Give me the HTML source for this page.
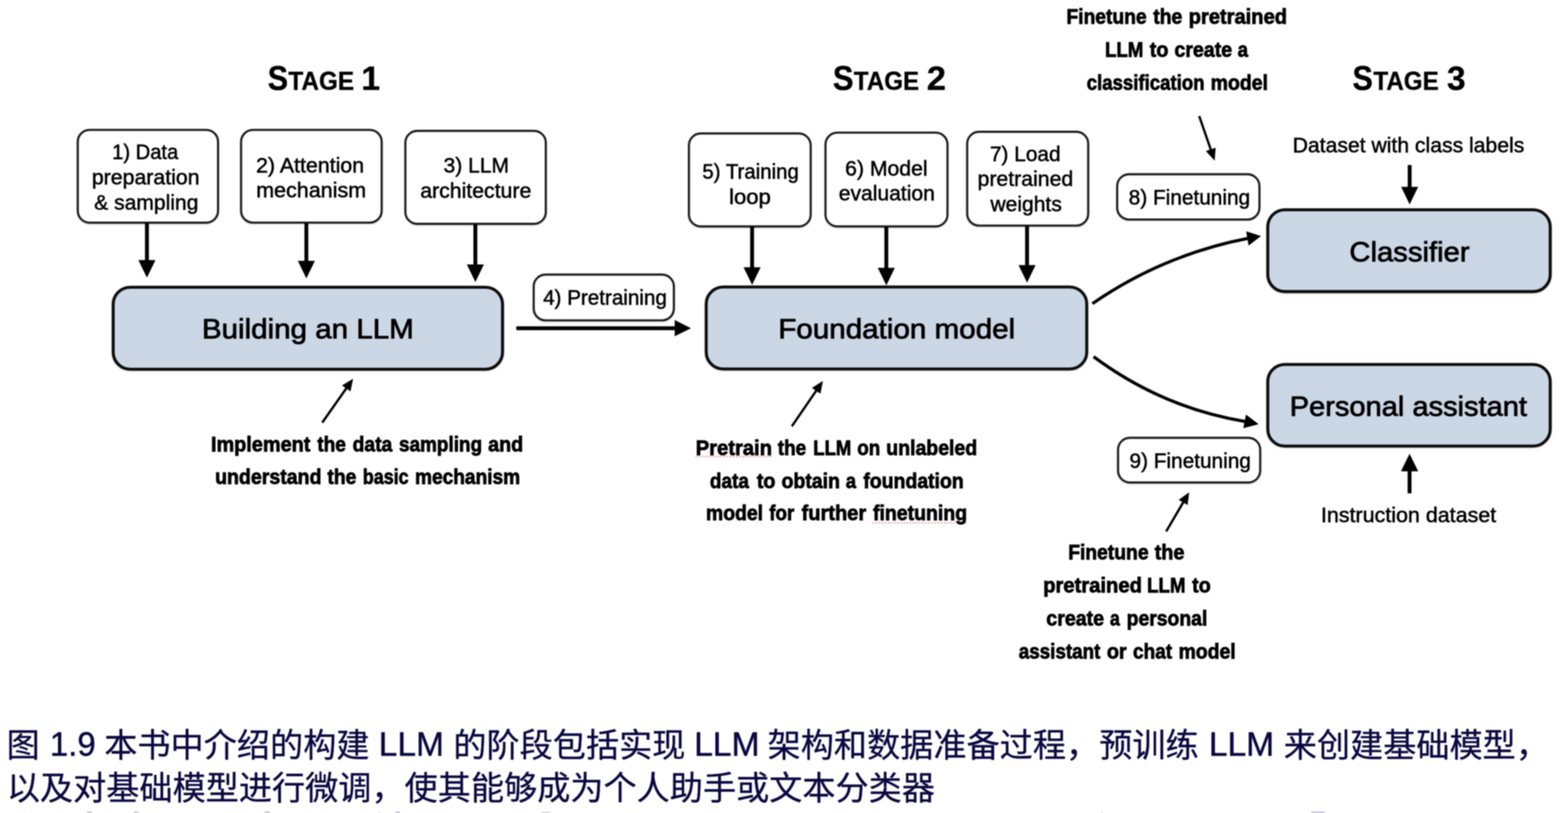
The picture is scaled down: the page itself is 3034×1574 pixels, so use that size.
<!DOCTYPE html>
<html><head><meta charset="utf-8"><title>Figure 1.9</title>
<style>
html,body{margin:0;padding:0;background:#fff;overflow:hidden}
svg{display:block;font-family:"Liberation Sans",sans-serif;filter:blur(0.9px)}
text{white-space:pre}
</style></head>
<body>
<svg width="3034" height="1574" viewBox="0 0 3034 1574">
<defs>
<filter id="sh" x="-5%" y="-5%" width="110%" height="115%"><feDropShadow dx="0" dy="1.5" stdDeviation="1.6" flood-color="#000" flood-opacity="0.16"/></filter>
</defs>
<rect width="3034" height="1574" fill="#fff"/>
<g filter="url(#sh)">
<rect x="150.50" y="251.50" width="271.40" height="179.60" rx="23.00" fill="#fff" stroke="#1a1a1a" stroke-width="4.1"/>
<rect x="466.50" y="251.50" width="272.00" height="179.50" rx="23.00" fill="#fff" stroke="#1a1a1a" stroke-width="4.1"/>
<rect x="784.40" y="253.40" width="271.70" height="180.00" rx="23.00" fill="#fff" stroke="#1a1a1a" stroke-width="4.1"/>
<rect x="1032.70" y="531.60" width="271.20" height="88.60" rx="23.00" fill="#fff" stroke="#1a1a1a" stroke-width="4.1"/>
<rect x="1333.10" y="258.40" width="235.50" height="180.00" rx="23.00" fill="#fff" stroke="#1a1a1a" stroke-width="4.1"/>
<rect x="1597.30" y="256.70" width="236.00" height="181.70" rx="23.00" fill="#fff" stroke="#1a1a1a" stroke-width="4.1"/>
<rect x="1871.50" y="255.10" width="234.10" height="181.60" rx="23.00" fill="#fff" stroke="#1a1a1a" stroke-width="4.1"/>
<rect x="2161.70" y="337.40" width="275.20" height="87.60" rx="23.00" fill="#fff" stroke="#1a1a1a" stroke-width="4.1"/>
<rect x="2163.40" y="847.60" width="275.00" height="86.50" rx="23.00" fill="#fff" stroke="#1a1a1a" stroke-width="4.1"/>
<rect x="219.00" y="556.10" width="753.40" height="158.70" rx="33.00" fill="#ccd7e6" stroke="#0a0a0a" stroke-width="5.8"/>
<rect x="1366.50" y="555.60" width="736.30" height="158.80" rx="33.00" fill="#ccd7e6" stroke="#0a0a0a" stroke-width="5.8"/>
<rect x="2453.10" y="406.10" width="546.50" height="158.40" rx="33.00" fill="#ccd7e6" stroke="#0a0a0a" stroke-width="5.8"/>
<rect x="2453.10" y="705.60" width="546.50" height="158.10" rx="33.00" fill="#ccd7e6" stroke="#0a0a0a" stroke-width="5.8"/>
</g>
<path d="M284.3,432.0L284.3,505.6" stroke="#000" stroke-width="7.5" fill="none"/><path d="M284.3,537.6L267.8,503.6L300.8,503.6Z" fill="#000"/>
<path d="M592.8,432.0L592.8,507.0" stroke="#000" stroke-width="7.5" fill="none"/><path d="M592.8,539.0L576.3,505.0L609.3,505.0Z" fill="#000"/>
<path d="M919.8,434.0L919.8,514.0" stroke="#000" stroke-width="7.5" fill="none"/><path d="M919.8,546.0L903.3,512.0L936.3,512.0Z" fill="#000"/>
<path d="M1455.3,439.0L1455.3,519.6" stroke="#000" stroke-width="7.5" fill="none"/><path d="M1455.3,551.6L1438.8,517.6L1471.8,517.6Z" fill="#000"/>
<path d="M1715.0,439.0L1715.0,520.5" stroke="#000" stroke-width="7.5" fill="none"/><path d="M1715.0,552.5L1698.5,518.5L1731.5,518.5Z" fill="#000"/>
<path d="M1987.3,437.5L1987.3,515.3" stroke="#000" stroke-width="7.5" fill="none"/><path d="M1987.3,547.3L1970.8,513.3L2003.8,513.3Z" fill="#000"/>
<path d="M2727.6,319.5L2727.6,363.7" stroke="#000" stroke-width="7.5" fill="none"/><path d="M2727.6,395.7L2711.1,361.7L2744.1,361.7Z" fill="#000"/>
<path d="M2727.4,955.2L2727.4,910.5" stroke="#000" stroke-width="7.5" fill="none"/><path d="M2727.4,878.5L2744.2,912.5L2710.7,912.5Z" fill="#000"/>
<path d="M999.0,635.4L1307.5,635.4" stroke="#000" stroke-width="7.5" fill="none"/><path d="M1337.0,635.4L1305.5,651.1L1305.5,619.6Z" fill="#000"/>
<path d="M623.6,818.1L671.1,750.4" stroke="#000" stroke-width="4.5" fill="none"/><path d="M683.2,733.2L678.2,757.8L661.8,746.3Z" fill="#000"/>
<path d="M1532.2,825.2L1580.4,754.9" stroke="#000" stroke-width="4.5" fill="none"/><path d="M1592.3,737.6L1587.5,762.2L1571.0,750.9Z" fill="#000"/>
<path d="M2320.4,224.8L2343.4,291.2" stroke="#000" stroke-width="4.5" fill="none"/><path d="M2350.3,311.0L2333.3,292.5L2352.2,286.0Z" fill="#000"/>
<path d="M2256.5,1028.9L2290.4,971.0" stroke="#000" stroke-width="4.5" fill="none"/><path d="M2301.0,952.9L2298.0,977.8L2280.7,967.7Z" fill="#000"/>
<path d="M2113.8,587.9Q2250,493.5 2415.6,461.3" stroke="#000" stroke-width="6" fill="none"/><path d="M2440.0,457.0L2416.0,475.4L2411.2,447.8Z" fill="#000"/>
<path d="M2116,690.5Q2250,790 2410.3,816.2" stroke="#000" stroke-width="6" fill="none"/><path d="M2435.4,821.2L2405.7,829.0L2410.9,802.6Z" fill="#000"/>
<path d="M1346,883.8H1493M1688.3,1012.3H1870.2" stroke="#e0524a" stroke-width="2" stroke-dasharray="3 3" opacity="0.75"/>
<text transform="translate(699.10,174.00) scale(1.0200,1)" font-size="64.6" font-weight="700" fill="#000" stroke="#000" stroke-width="0.6">1</text>
<g fill="#8f90b4" opacity="0.55"><rect x="168" y="1571" width="10" height="3"/><rect x="259" y="1571" width="9" height="3"/><rect x="512" y="1571" width="10" height="3"/><rect x="733" y="1572" width="3" height="2"/><rect x="765" y="1571" width="9" height="3"/><rect x="1048" y="1572" width="16" height="2"/><rect x="2131" y="1572" width="3" height="2"/><rect x="2537" y="1571" width="26" height="3"/></g>
<text transform="translate(216.95,308.30) scale(0.9754,1)" font-size="40" font-weight="400" fill="#000" stroke="#000" stroke-width="0.9">1) Data</text>
<text transform="translate(177.64,357.40) scale(1.0307,1)" font-size="40" font-weight="400" fill="#000" stroke="#000" stroke-width="0.9">preparation</text>
<text transform="translate(182.33,406.00) scale(1.0184,1)" font-size="40" font-weight="400" fill="#000" stroke="#000" stroke-width="0.9">&amp; sampling</text>
<text transform="translate(495.53,333.60) scale(1.0328,1)" font-size="40" font-weight="400" fill="#000" stroke="#000" stroke-width="0.9">2) Attention</text>
<text transform="translate(495.72,382.20) scale(1.0400,1)" font-size="40" font-weight="400" fill="#000" stroke="#000" stroke-width="0.9">mechanism</text>
<text transform="translate(858.28,333.80) scale(1.0176,1)" font-size="40" font-weight="400" fill="#000" stroke="#000" stroke-width="0.9">3) LLM</text>
<text transform="translate(813.17,382.80) scale(1.0284,1)" font-size="40" font-weight="400" fill="#000" stroke="#000" stroke-width="0.9">architecture</text>
<text transform="translate(1050.90,590.00) scale(0.9976,1)" font-size="40" font-weight="400" fill="#000" stroke="#000" stroke-width="0.9">4) Pretraining</text>
<text transform="translate(1359.11,345.50) scale(0.9873,1)" font-size="40" font-weight="400" fill="#000" stroke="#000" stroke-width="0.9">5) Training</text>
<text transform="translate(1410.86,394.50) scale(1.0680,1)" font-size="40" font-weight="400" fill="#000" stroke="#000" stroke-width="0.9">loop</text>
<text transform="translate(1635.35,339.50) scale(1.0248,1)" font-size="40" font-weight="400" fill="#000" stroke="#000" stroke-width="0.9">6) Model</text>
<text transform="translate(1622.98,387.50) scale(1.0194,1)" font-size="40" font-weight="400" fill="#000" stroke="#000" stroke-width="0.9">evaluation</text>
<text transform="translate(1915.38,311.90) scale(1.0090,1)" font-size="40" font-weight="400" fill="#000" stroke="#000" stroke-width="0.9">7) Load</text>
<text transform="translate(1891.55,360.10) scale(1.0275,1)" font-size="40" font-weight="400" fill="#000" stroke="#000" stroke-width="0.9">pretrained</text>
<text transform="translate(1916.42,408.70) scale(1.0182,1)" font-size="40" font-weight="400" fill="#000" stroke="#000" stroke-width="0.9">weights</text>
<text transform="translate(2184.09,395.70) scale(1.0059,1)" font-size="40" font-weight="400" fill="#000" stroke="#000" stroke-width="0.9">8) Finetuning</text>
<text transform="translate(2185.49,905.80) scale(1.0068,1)" font-size="40" font-weight="400" fill="#000" stroke="#000" stroke-width="0.9">9) Finetuning</text>
<text transform="translate(2501.23,294.60) scale(1.0236,1)" font-size="40" font-weight="400" fill="#000" stroke="#000" stroke-width="0.9">Dataset with class labels</text>
<text transform="translate(2555.99,1011.40) scale(1.0376,1)" font-size="40" font-weight="400" fill="#000" stroke="#000" stroke-width="0.9">Instruction dataset</text>
<text transform="translate(390.68,654.60) scale(1.0790,1)" font-size="53" font-weight="400" fill="#000" stroke="#000" stroke-width="1.4">Building an LLM</text>
<text transform="translate(1505.88,654.60) scale(1.0807,1)" font-size="53" font-weight="400" fill="#000" stroke="#000" stroke-width="1.4">Foundation model</text>
<text transform="translate(2611.07,505.80) scale(1.0665,1)" font-size="53" font-weight="400" fill="#000" stroke="#000" stroke-width="1.4">Classifier</text>
<text transform="translate(2495.56,804.50) scale(1.0603,1)" font-size="53" font-weight="400" fill="#000" stroke="#000" stroke-width="1.4">Personal assistant</text>
<text transform="translate(408.22,873.60) scale(0.9386,1)" font-size="41" font-weight="700" fill="#000" stroke="#000" stroke-width="1.4">Implement</text>
<text transform="translate(613.90,873.60) scale(0.9012,1)" font-size="41" font-weight="700" fill="#000" stroke="#000" stroke-width="1.4">the</text>
<text transform="translate(682.29,873.60) scale(0.9112,1)" font-size="41" font-weight="700" fill="#000" stroke="#000" stroke-width="1.4">data</text>
<text transform="translate(772.11,873.60) scale(0.8930,1)" font-size="41" font-weight="700" fill="#000" stroke="#000" stroke-width="1.4">sampling</text>
<text transform="translate(944.57,873.60) scale(0.9292,1)" font-size="41" font-weight="700" fill="#000" stroke="#000" stroke-width="1.4">and</text>
<text transform="translate(416.16,937.00) scale(0.9225,1)" font-size="41" font-weight="700" fill="#000" stroke="#000" stroke-width="1.4">understand</text>
<text transform="translate(633.50,937.00) scale(0.9111,1)" font-size="41" font-weight="700" fill="#000" stroke="#000" stroke-width="1.4">the</text>
<text transform="translate(702.01,937.00) scale(0.8448,1)" font-size="41" font-weight="700" fill="#000" stroke="#000" stroke-width="1.4">basic</text>
<text transform="translate(803.00,937.00) scale(0.9021,1)" font-size="41" font-weight="700" fill="#000" stroke="#000" stroke-width="1.4">mechanism</text>
<text transform="translate(1346.30,881.10) scale(0.9516,1)" font-size="41" font-weight="700" fill="#000" stroke="#000" stroke-width="1.4">Pretrain</text>
<text transform="translate(1505.00,881.10) scale(0.8929,1)" font-size="41" font-weight="700" fill="#000" stroke="#000" stroke-width="1.4">the</text>
<text transform="translate(1573.45,881.10) scale(0.8765,1)" font-size="41" font-weight="700" fill="#000" stroke="#000" stroke-width="1.4">LLM</text>
<text transform="translate(1658.71,881.10) scale(0.8864,1)" font-size="41" font-weight="700" fill="#000" stroke="#000" stroke-width="1.4">on</text>
<text transform="translate(1714.86,881.10) scale(0.9198,1)" font-size="41" font-weight="700" fill="#000" stroke="#000" stroke-width="1.4">unlabeled</text>
<text transform="translate(1373.60,944.70) scale(0.8959,1)" font-size="41" font-weight="700" fill="#000" stroke="#000" stroke-width="1.4">data</text>
<text transform="translate(1464.40,944.70) scale(0.9322,1)" font-size="41" font-weight="700" fill="#000" stroke="#000" stroke-width="1.4">to</text>
<text transform="translate(1512.18,944.70) scale(0.9197,1)" font-size="41" font-weight="700" fill="#000" stroke="#000" stroke-width="1.4">obtain</text>
<text transform="translate(1636.43,944.70) scale(0.8739,1)" font-size="41" font-weight="700" fill="#000" stroke="#000" stroke-width="1.4">a</text>
<text transform="translate(1670.60,944.70) scale(0.9165,1)" font-size="41" font-weight="700" fill="#000" stroke="#000" stroke-width="1.4">foundation</text>
<text transform="translate(1366.07,1007.30) scale(0.9145,1)" font-size="41" font-weight="700" fill="#000" stroke="#000" stroke-width="1.4">model</text>
<text transform="translate(1488.50,1007.30) scale(0.8830,1)" font-size="41" font-weight="700" fill="#000" stroke="#000" stroke-width="1.4">for</text>
<text transform="translate(1551.10,1007.30) scale(0.9459,1)" font-size="41" font-weight="700" fill="#000" stroke="#000" stroke-width="1.4">further</text>
<text transform="translate(1689.20,1007.30) scale(0.9186,1)" font-size="41" font-weight="700" fill="#000" stroke="#000" stroke-width="1.4">finetuning</text>
<text transform="translate(2063.58,45.70) scale(0.9076,1)" font-size="41" font-weight="700" fill="#000" stroke="#000" stroke-width="1.4">Finetune</text>
<text transform="translate(2231.40,45.70) scale(0.9160,1)" font-size="41" font-weight="700" fill="#000" stroke="#000" stroke-width="1.4">the</text>
<text transform="translate(2300.00,45.70) scale(0.9493,1)" font-size="41" font-weight="700" fill="#000" stroke="#000" stroke-width="1.4">pretrained</text>
<text transform="translate(2138.24,109.90) scale(0.8803,1)" font-size="41" font-weight="700" fill="#000" stroke="#000" stroke-width="1.4">LLM</text>
<text transform="translate(2224.80,109.90) scale(0.9322,1)" font-size="41" font-weight="700" fill="#000" stroke="#000" stroke-width="1.4">to</text>
<text transform="translate(2272.48,109.90) scale(0.9242,1)" font-size="41" font-weight="700" fill="#000" stroke="#000" stroke-width="1.4">create</text>
<text transform="translate(2394.82,109.90) scale(0.8826,1)" font-size="41" font-weight="700" fill="#000" stroke="#000" stroke-width="1.4">a</text>
<text transform="translate(2102.82,174.20) scale(0.8776,1)" font-size="41" font-weight="700" fill="#000" stroke="#000" stroke-width="1.4">classification</text>
<text transform="translate(2342.46,174.20) scale(0.9197,1)" font-size="41" font-weight="700" fill="#000" stroke="#000" stroke-width="1.4">model</text>
<text transform="translate(2066.88,1082.80) scale(0.9106,1)" font-size="41" font-weight="700" fill="#000" stroke="#000" stroke-width="1.4">Finetune</text>
<text transform="translate(2234.30,1082.80) scale(0.9358,1)" font-size="41" font-weight="700" fill="#000" stroke="#000" stroke-width="1.4">the</text>
<text transform="translate(2018.39,1146.90) scale(0.9539,1)" font-size="41" font-weight="700" fill="#000" stroke="#000" stroke-width="1.4">pretrained</text>
<text transform="translate(2219.43,1146.90) scale(0.8828,1)" font-size="41" font-weight="700" fill="#000" stroke="#000" stroke-width="1.4">LLM</text>
<text transform="translate(2306.80,1146.90) scale(0.9269,1)" font-size="41" font-weight="700" fill="#000" stroke="#000" stroke-width="1.4">to</text>
<text transform="translate(2024.57,1211.00) scale(0.9251,1)" font-size="41" font-weight="700" fill="#000" stroke="#000" stroke-width="1.4">create</text>
<text transform="translate(2147.87,1211.00) scale(0.8348,1)" font-size="41" font-weight="700" fill="#000" stroke="#000" stroke-width="1.4">a</text>
<text transform="translate(2180.07,1211.00) scale(0.9129,1)" font-size="41" font-weight="700" fill="#000" stroke="#000" stroke-width="1.4">personal</text>
<text transform="translate(1971.31,1275.40) scale(0.8882,1)" font-size="41" font-weight="700" fill="#000" stroke="#000" stroke-width="1.4">assistant</text>
<text transform="translate(2141.66,1275.40) scale(0.9365,1)" font-size="41" font-weight="700" fill="#000" stroke="#000" stroke-width="1.4">or</text>
<text transform="translate(2192.30,1275.40) scale(0.8990,1)" font-size="41" font-weight="700" fill="#000" stroke="#000" stroke-width="1.4">chat</text>
<text transform="translate(2280.47,1275.40) scale(0.9162,1)" font-size="41" font-weight="700" fill="#000" stroke="#000" stroke-width="1.4">model</text>
<text transform="translate(96.62,1463.30) scale(0.9954,1)" font-size="64" font-weight="400" fill="#0a0840" stroke="#0a0840" stroke-width="0.8">1.9</text>
<text transform="translate(732.83,1463.30) scale(1.0140,1)" font-size="64" font-weight="400" fill="#0a0840" stroke="#0a0840" stroke-width="0.8">LLM</text>
<text transform="translate(1343.22,1463.30) scale(1.0157,1)" font-size="64" font-weight="400" fill="#0a0840" stroke="#0a0840" stroke-width="0.8">LLM</text>
<text transform="translate(2339.02,1463.30) scale(1.0157,1)" font-size="64" font-weight="400" fill="#0a0840" stroke="#0a0840" stroke-width="0.8">LLM</text>
<text transform="translate(518.10,174.00) scale(0.8951,1)" font-size="66" font-weight="700" fill="#000" stroke="#000" stroke-width="0.6">S</text>
<text transform="translate(558.00,174.00) scale(0.9400,1)" font-size="50" font-weight="700" fill="#000" stroke="#000" stroke-width="0.6">TAGE</text>
<text transform="translate(1611.59,174.00) scale(0.9098,1)" font-size="66" font-weight="700" fill="#000" stroke="#000" stroke-width="0.6">S</text>
<text transform="translate(1652.10,174.00) scale(0.9355,1)" font-size="50" font-weight="700" fill="#000" stroke="#000" stroke-width="0.6">TAGE</text>
<text transform="translate(2616.90,174.00) scale(0.8951,1)" font-size="66" font-weight="700" fill="#000" stroke="#000" stroke-width="0.6">S</text>
<text transform="translate(2657.40,174.00) scale(0.9355,1)" font-size="50" font-weight="700" fill="#000" stroke="#000" stroke-width="0.6">TAGE</text>
<text transform="translate(1793.22,174.00) scale(1.0375,1)" font-size="64.6" font-weight="700" fill="#000" stroke="#000" stroke-width="0.6">2</text>
<text transform="translate(2799.69,174.00) scale(1.0061,1)" font-size="64.6" font-weight="700" fill="#000" stroke="#000" stroke-width="0.6">3</text>
<g fill="#0a0840" stroke="#0a0840" stroke-width="0.6" stroke-linejoin="round" font-size="64.15" font-weight="400" style='font-family:"Liberation Sans","Noto Sans CJK SC",sans-serif'>
<text x="12.8" y="1465">图</text>
<text x="201.8" y="1465">本书中介绍的构建</text>
<text x="877.2" y="1465">的阶段包括实现</text>
<text x="1485.3" y="1465">架构和数据准备过程，</text>
<text x="2127.0" y="1465">预训练</text>
<text x="2484.0" y="1465">来创建基础模型，</text>
<text x="13.2" y="1548">以及对基础模型进行微调，使其能够成为个人助手或文本分类器</text>
</g>
</svg>
</body></html>
